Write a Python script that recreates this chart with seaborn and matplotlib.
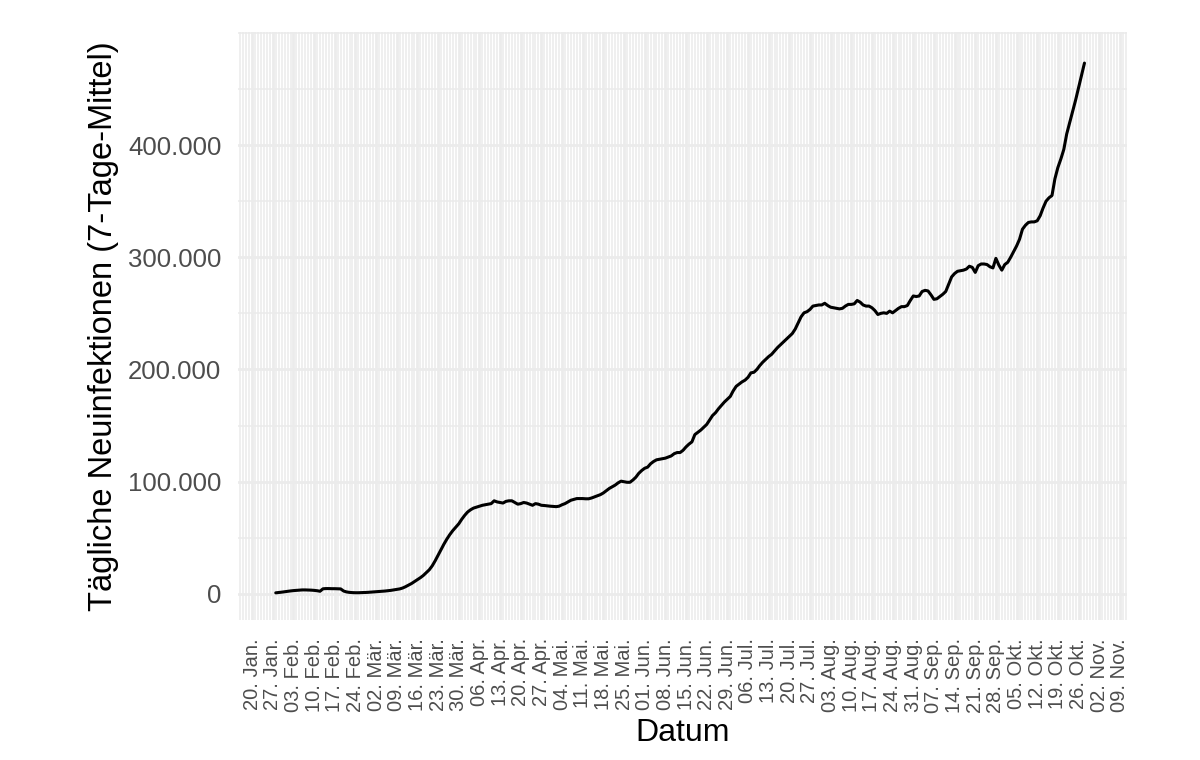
import pandas as pd
import numpy as np
import matplotlib
matplotlib.use("Agg")
import matplotlib.pyplot as plt
import matplotlib.dates as mdates
from matplotlib.ticker import MultipleLocator, FuncFormatter
import seaborn as sns

# Weltweite tägliche Neuinfektionen, 7-Tage-Mittel (in Tausend)
start_datum = "2020-01-28"
werte_tsd = [
    # Jan 28 - Feb 29
    1.0, 1.3, 1.6, 2.0, 2.4, 2.7, 3.0, 3.2, 3.4, 3.6, 3.6, 3.5, 3.4, 3.2, 2.9, 2.4,
    4.6, 4.8, 4.8, 4.7, 4.7, 4.6, 4.5, 2.6, 1.8, 1.4, 1.2, 1.1, 1.1, 1.2, 1.3, 1.4, 1.6,
    # Mar
    1.8, 2.0, 2.2, 2.4, 2.6, 2.9, 3.2, 3.6, 4.0, 4.5, 5.3, 6.5, 7.9, 9.3, 11.0, 12.8,
    14.5, 16.5, 19.0, 21.5, 25.0, 29.5, 34.5, 39.5, 44.5, 49.0, 53.0, 56.5, 59.5, 62.5, 66.5,
    # Apr
    70.0, 73.0, 75.0, 76.5, 77.3, 78.0, 79.0, 79.5, 80.0, 80.5, 83.0, 82.0, 81.5, 81.0, 82.5,
    83.0, 83.0, 81.5, 80.0, 80.5, 81.5, 81.0, 80.0, 79.0, 80.5, 80.0, 79.0, 78.8, 78.5, 78.2,
    # May
    78.0, 77.8, 78.2, 79.5, 80.5, 82.0, 83.5, 84.3, 85.0, 85.0, 85.0, 84.8, 84.8, 85.5, 86.5,
    87.5, 88.5, 90.0, 92.0, 94.0, 95.5, 97.0, 99.0, 100.5, 100.0, 99.5, 99.5, 101.5, 104.0,
    107.5, 110.0,
    # Jun
    112.0, 113.0, 116.0, 118.0, 119.5, 120.0, 120.5, 121.0, 122.0, 123.0, 125.0, 126.0, 126.0,
    128.0, 131.0, 133.5, 135.5, 142.0, 144.0, 146.0, 148.5, 151.0, 155.0, 159.0, 161.5, 165.0,
    168.0, 171.0, 173.5, 176.0,
    # Jul
    181.0, 185.0, 187.0, 189.0, 190.5, 193.0, 197.0, 197.5, 200.0, 203.5, 206.5, 209.0, 211.5,
    213.5, 216.5, 219.5, 222.0, 224.5, 227.0, 229.5, 232.0, 236.0, 241.5, 247.0, 250.5, 251.5,
    253.5, 256.5, 257.0, 257.5, 257.5,
    # Aug
    259.0, 257.0, 255.5, 255.0, 254.5, 254.0, 254.5, 256.5, 258.0, 258.0, 258.5, 261.5, 260.0,
    257.5, 256.5, 256.5, 255.0, 252.5, 249.0, 250.0, 250.5, 250.0, 252.0, 250.5, 252.5, 254.5,
    256.0, 256.0, 257.0, 261.5, 265.5,
    # Sep
    265.0, 265.5, 269.5, 270.5, 270.0, 266.5, 262.5, 263.0, 265.0, 267.0, 269.5, 276.0, 282.5,
    285.5, 287.5, 288.0, 288.5, 289.5, 292.0, 291.0, 286.5, 292.5, 294.0, 294.0, 293.5, 291.5,
    290.5, 299.0, 293.0, 288.5,
    # Oct 1 - 28
    293.5, 295.5, 300.0, 305.0, 310.0, 316.0, 325.0, 328.5, 331.0, 331.5, 331.5, 332.5, 337.0,
    344.0, 350.0, 353.0, 355.0, 370.0, 380.0, 387.5, 396.0, 410.0, 420.0, 430.0, 440.0, 451.0,
    462.0, 473.0,
]

monate = ["Jan.", "Feb.", "Mär.", "Apr.", "Mai.", "Jun.", "Jul.", "Aug.", "Sep.", "Okt.", "Nov.", "Dez."]
tick_start, tick_ende = "2020-01-20", "2020-11-09"
y_ticks = [0, 100000, 200000, 300000, 400000]

df = pd.DataFrame({
    "datum": pd.date_range(start_datum, periods=len(werte_tsd), freq="D"),
    "faelle": np.array(werte_tsd) * 1000,
})

sns.set_theme(style="white")
plt.rcParams["font.family"] = ["Liberation Sans", "DejaVu Sans"]

fig = plt.figure(figsize=(12, 7.6), dpi=100)
ax = fig.add_axes([238 / 1200, 1 - 620 / 760, (1127 - 238) / 1200, (620 - 32) / 760])

sns.lineplot(data=df, x="datum", y="faelle", color="black", linewidth=2.2, ax=ax)

# x-Achse: Wochen-Ticks, tägliche Nebengitter
ticks = pd.date_range(tick_start, tick_ende, freq="7D")
ax.set_xticks(ticks)
ax.set_xticklabels([f"{d.day:02d}. {monate[d.month - 1]}" for d in ticks],
                   rotation=90, fontsize=14.5, color="#4D4D4D")
ax.xaxis.set_minor_locator(mdates.DayLocator())
ax.set_xlim(pd.Timestamp("2020-01-15 05:00"), pd.Timestamp("2020-11-11 10:00"))

# y-Achse
ax.set_yticks(y_ticks)
ax.yaxis.set_major_formatter(FuncFormatter(lambda v, p: f"{int(v):,}".replace(",", ".")))
ax.yaxis.set_minor_locator(MultipleLocator(50000))
ax.set_ylim(-23200, 500700)
for lab in ax.get_yticklabels():
    lab.set_fontsize(18.5)
    lab.set_color("#4D4D4D")

ax.grid(which="major", color="#EBEBEB", linewidth=2.0)
ax.grid(which="minor", color="#EBEBEB", linewidth=1.1)
ax.set_axisbelow(True)
ax.tick_params(which="both", length=0)
ax.tick_params(axis="x", pad=13)
ax.tick_params(axis="y", pad=12)
sns.despine(ax=ax, left=True, bottom=True)

ax.set_xlabel("Datum", fontsize=23, color="black")
ax.set_ylabel("Tägliche Neuinfektionen (7-Tage-Mittel)", fontsize=23.5, color="black")
ax.xaxis.set_label_coords(0.5, (620 - 733) / 588)
ax.xaxis.label.set_va("center")
ax.yaxis.set_label_coords((104 - 238) / 889, 0.5)
ax.yaxis.label.set_va("center")

fig.savefig("out.png", dpi=100, facecolor="white")
